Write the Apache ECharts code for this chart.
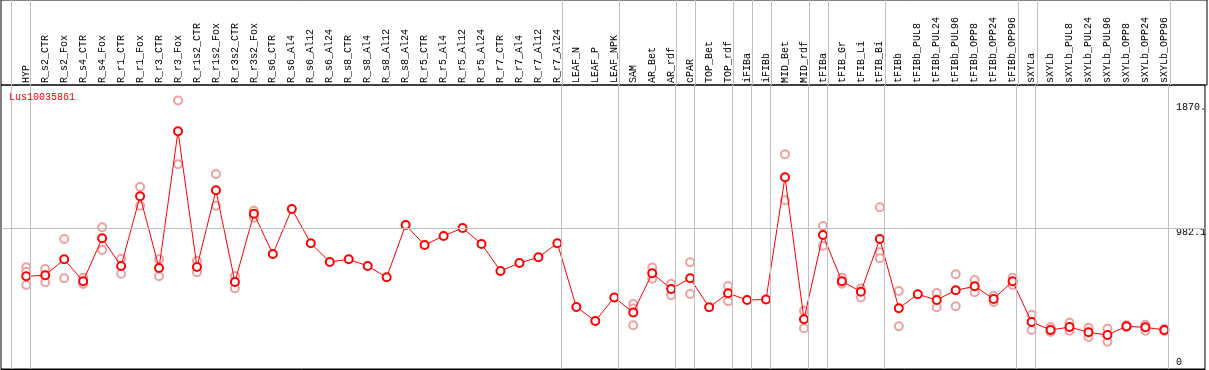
<!DOCTYPE html>
<html>
<head>
<meta charset="utf-8">
<script src="https://cdn.jsdelivr.net/npm/echarts@6/dist/echarts.min.js"></script>
<style>
html,body{margin:0;padding:0;background:#fff;}
#chart{width:1209px;height:370px;}
</style>
</head>
<body>
<div id="chart"></div>
<script>
const chartTitle = 'Lus10035861';
const categories = ['HYP','R_s2_CTR','R_s2_Fox','R_s4_CTR','R_s4_Fox','R_r1_CTR','R_r1_Fox','R_r3_CTR','R_r3_Fox','R_r1s2_CTR','R_r1s2_Fox','R_r3s2_CTR','R_r3s2_Fox','R_s6_CTR','R_s6_Al4','R_s6_Al12','R_s6_Al24','R_s8_CTR','R_s8_Al4','R_s8_Al12','R_s8_Al24','R_r5_CTR','R_r5_Al4','R_r5_Al12','R_r5_Al24','R_r7_CTR','R_r7_Al4','R_r7_Al12','R_r7_Al24','LEAF_N','LEAF_P','LEAF_NPK','SAM','AR_Bet','AR_rdf','cPAR','TOP_Bet','TOP_rdf','iFIBa','iFIBb','MID_Bet','MID_rdf','tFIBa','tFIB_Gr','tFIB_Li','tFIB_Bi','tFIBb','tFIBb_PUL8','tFIBb_PUL24','tFIBb_PUL96','tFIBb_OPP8','tFIBb_OPP24','tFIBb_OPP96','sXYLa','sXYLb','sXYLb_PUL8','sXYLb_PUL24','sXYLb_PUL96','sXYLb_OPP8','sXYLb_OPP24','sXYLb_OPP96'];
const meanValues = [645.6,652.6,764.1,610.8,910.3,717.4,1202.8,703.5,1655.6,710.4,1244.6,606.0,1081.7,801.0,1114.4,875.5,745.3,764.1,717.4,638.7,1003.0,863.7,926.3,982.1,870.6,682.6,738.3,778.0,875.5,431.8,334.3,498.0,393.5,667.2,557.2,631.7,429.7,527.9,480.6,484.1,1335.2,346.9,933.3,611.5,537.7,905.5,422.8,520.3,480.6,548.1,576.0,487.6,610.8,327.4,271.6,292.5,255.6,236.8,297.4,290.4,271.6];
const rep1 = [708.3,696.5,905.5,635.9,986.9,768.2,1267.6,764.1,1870,752.2,1358.2,647.7,1102.6,null,null,null,null,null,null,null,null,null,null,null,null,null,null,null,null,null,null,null,452.7,706.9,594.1,743.9,null,578.1,null,null,1495.4,405.4,996.0,635.2,560.7,1126.2,543.3,null,529.3,659.6,619.9,510.5,635.9,378.2,290.4,322.5,287.6,280.7,304.4,308.5,278.6];
const rep2 = [585.1,603.9,631.7,592.0,828.8,663.8,1137.4,645.6,1425.7,673.5,1137.4,562.1,1053.8,null,null,null,null,null,null,null,null,null,null,null,null,null,null,null,null,null,null,null,304.4,628.9,514.0,522.4,null,472.2,null,null,1175.0,284.2,858.8,593.4,498.0,812.8,298.1,null,429.7,436.7,534.2,466.7,585.1,271.6,257.7,266.8,222.9,190.1,290.4,266.8,264.7];
const rep3 = {0: 677.7, 32: 421.4, 45: 771.0};
const groupSizes = [1,28,3,3,1,2,1,1,2,1,3,7,1,7];
const yTickValues = [0, 982.1, 1870];
const yTickLabels = ['0', '982.1', '1870.'];

const MONO = '"Liberation Mono", "DejaVu Sans Mono", monospace';
const XMIN = -1.3316, XMAX = 62.142;
const SEP_OFF = 0.21;

// separators at group boundaries
const sepValues = [-1 + SEP_OFF];
let cum = 0;
groupSizes.forEach(g => { cum += g; sepValues.push(cum - 1 + SEP_OFF); });

const meanData = meanValues.map((v, i) => [i, v]);
const repData = [];
rep1.forEach((v, i) => { if (v != null) repData.push([i, v]); });
rep2.forEach((v, i) => { if (v != null) repData.push([i, v]); });
Object.keys(rep3).forEach(k => repData.push([+k, rep3[k]]));

const sepMarkLine = {
  silent: true,
  symbol: ['none', 'none'],
  label: { show: false },
  lineStyle: { color: '#c0c0c0', type: 'solid', width: 1 },
  emphasis: { disabled: true },
  animation: false,
  data: sepValues.map(v => ({ xAxis: v }))
};

const chart = echarts.init(document.getElementById('chart'), null, { renderer: 'canvas' });
chart.setOption({
  animation: false,
  backgroundColor: '#fff',
  title: {
    text: chartTitle, left: 9, top: 92, padding: 0,
    textStyle: { color: '#ff0000', fontSize: 10, fontWeight: 'normal', fontFamily: MONO }
  },
  grid: [
    { left: 1, right: 2, top: 85, bottom: 1, show: true, borderColor: '#000', borderWidth: 1, backgroundColor: 'transparent' },
    { left: 1, right: 2, top: 0, height: 85, show: true, borderColor: '#000', borderWidth: 1, backgroundColor: 'transparent' }
  ],
  xAxis: [
    {
      gridIndex: 0, type: 'value', position: 'top', min: XMIN, max: XMAX,
      axisLine: { show: true, lineStyle: { color: '#000', width: 1 } },
      axisTick: { show: false }, splitLine: { show: false },
      axisLabel: {
        customValues: categories.map((c, i) => i),
        formatter: v => categories[Math.round(v)] || '',
        rotate: 90, margin: 2, color: '#000', fontSize: 10, fontFamily: MONO
      }
    },
    { gridIndex: 1, type: 'value', min: XMIN, max: XMAX, show: false }
  ],
  yAxis: [
    {
      gridIndex: 0, type: 'value', position: 'right', min: 0, max: 1978,
      axisLine: { show: false }, axisTick: { show: false }, splitLine: { show: false },
      axisLabel: {
        inside: true, align: 'left', margin: 29, verticalAlign: 'middle',
        customValues: yTickValues,
        formatter: v => {
          const idx = yTickValues.indexOf(v);
          const t = idx >= 0 ? yTickLabels[idx] : '';
          if (idx === 0) return '{z|' + t + '}';
          if (idx === 1) return '{m|' + t + '}';
          return '{h|' + t + '}';
        },
        rich: {
          z: { padding: [0, 0, 14, 0], fontSize: 10, fontFamily: MONO, color: '#000' },
          m: { padding: [9, 0, 0, 0], fontSize: 10, fontFamily: MONO, color: '#000' },
          h: { padding: [13, 0, 0, 0], fontSize: 10, fontFamily: MONO, color: '#000' }
        }
      }
    },
    { gridIndex: 1, type: 'value', min: 0, max: 1, show: false }
  ],
  series: [
    {
      type: 'line', xAxisIndex: 1, yAxisIndex: 1, data: [], z: 1,
      markLine: sepMarkLine
    },
    {
      type: 'line', xAxisIndex: 0, yAxisIndex: 0, data: [], z: 1,
      markLine: Object.assign({}, sepMarkLine, {
        data: sepMarkLine.data.concat([{ yAxis: 982.1 }])
      })
    },
    {
      type: 'scatter', xAxisIndex: 0, yAxisIndex: 0, z: 3,
      data: repData, symbol: 'emptyCircle', symbolSize: 8,
      itemStyle: { color: '#efa0a0', borderColor: '#efa0a0', borderWidth: 1.5, opacity: 1 },
      emphasis: { disabled: true }, silent: true
    },
    {
      type: 'line', xAxisIndex: 0, yAxisIndex: 0, z: 4,
      data: meanData, symbol: 'emptyCircle', symbolSize: 8, showAllSymbol: true,
      lineStyle: { color: '#ff0000', width: 1 },
      itemStyle: { color: '#ff0000', borderColor: '#ff0000', borderWidth: 1.5 },
      emphasis: { disabled: true }, silent: true
    }
  ]
});
</script>
</body>
</html>
